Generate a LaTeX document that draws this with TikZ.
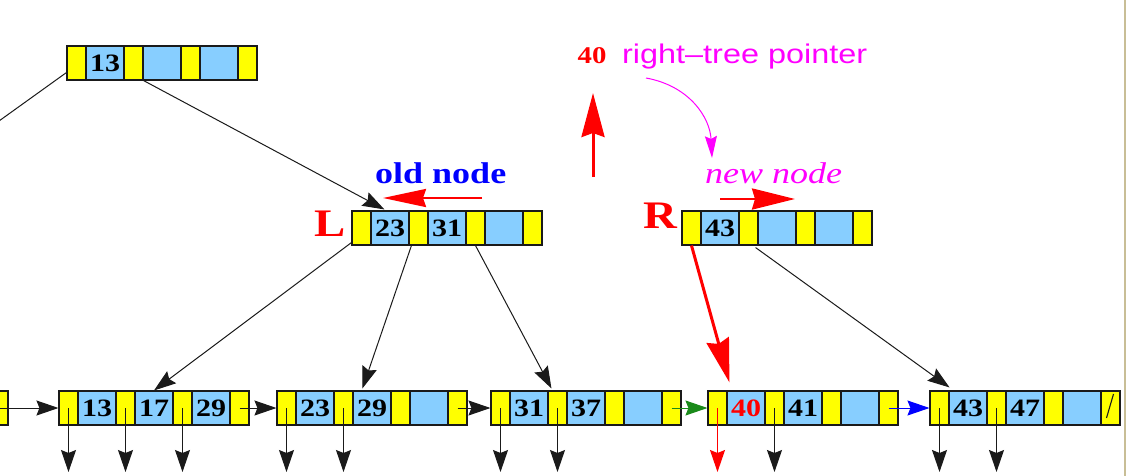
\documentclass[tikz,border=0pt]{standalone}
\usepackage{fontspec}
\setmainfont{Liberation Serif}[FakeStretch=1.2]
\setsansfont{Liberation Sans}[FakeStretch=1.2]
\usetikzlibrary{arrows.meta,calc}
\definecolor{ink}{HTML}{1A1A1A}
\definecolor{keyblue}{HTML}{87CEFF}
\definecolor{ptryellow}{HTML}{FFFF00}
\definecolor{linkgreen}{HTML}{1A8A1A}
\definecolor{linkblue}{HTML}{0000FF}
\definecolor{hot}{HTML}{FF0000}
\definecolor{pink}{HTML}{FF00FF}
\definecolor{frameline}{HTML}{C8BE96}

% one B+ tree node: 4 pointer cells, 3 key cells
% #1 name, #2 left x, #3 top y, #4-#6 keys
\newcommand{\bpnode}[6]{%
  \foreach \i in {0,...,3}{
    \node[ptrcell] (#1-p\i) at ({#2+57*\i+9.5},{#3+17}) {};
    \coordinate (#1-d\i) at ({#2+57*\i+9.5},472);
  }
  \node[keycell] (#1-k1) at ({#2+38},{#3+17}) {#4};
  \node[keycell] (#1-k2) at ({#2+95},{#3+17}) {#5};
  \node[keycell] (#1-k3) at ({#2+152},{#3+17}) {#6};
}

\begin{document}
\begin{tikzpicture}[
  x=1pt, y=-1pt,
  >={Stealth[length=22pt,width=15pt,inset=3pt]},
  ptrcell/.style={draw=ink, fill=ptryellow, line width=1.1pt,
                  minimum width=19pt, minimum height=34pt, inner sep=0pt},
  keycell/.style={draw=ink, fill=keyblue, line width=1.1pt,
                  minimum width=38pt, minimum height=34pt, inner sep=0pt,
                  font=\fontsize{25}{25}\selectfont\bfseries},
  ptr/.style={->, draw=ink, line width=1pt},
  bigptr/.style={-{Stealth[length=44pt,width=23pt,inset=4pt]}, draw=hot, line width=3pt},
  side/.style={font=\fontsize{39}{39}\selectfont\bfseries, text=hot, inner sep=0pt},
  tag/.style={font=\fontsize{30}{30}\selectfont, inner sep=0pt}
]
\useasboundingbox (0,0) rectangle (1126,476);
\clip (0,0) rectangle (1126,476);
\fill[white] (0,0) rectangle (1126,476);
\draw[frameline, line width=2pt] (1125,0) -- (1125,476);

% inner nodes
\bpnode{root}{67}{46}{13}{}{}
\bpnode{oldn}{352}{211}{23}{31}{}
\bpnode{newn}{682}{211}{43}{}{}

% leaves
\bpnode{leaf0}{-182}{391}{}{}{}
\bpnode{leaf1}{59}{391}{13}{17}{29}
\bpnode{leaf2}{277}{391}{23}{29}{}
\bpnode{leaf3}{491}{391}{31}{37}{}
\bpnode{leaf4}{708}{391}{\textcolor{hot}{40}}{41}{}
\bpnode{leaf5}{930}{391}{43}{47}{}
\draw[ink, line width=1.1pt] ($(leaf5-p3.center)+(-4,10)$) -- ($(leaf5-p3.center)+(3,-14)$);

% labels
\node[side, anchor=base] (lbl-L) at (330,236) {L};
\node[side, anchor=base] (lbl-R) at (660,228) {R};
\node[tag, anchor=base west, text=linkblue, font=\fontsize{30}{30}\selectfont\bfseries] (oldlbl) at (375,183) {old node};
\node[tag, anchor=base west, text=pink, font=\fontsize{30}{30}\selectfont\itshape] (newlbl) at (705,183) {new node};
\node[anchor=base, text=hot, inner sep=0pt, font=\fontsize{24}{24}\selectfont\bfseries] (key40) at (592,64) {40};
\node[anchor=base west, text=pink, inner sep=0pt, font=\fontsize{27}{27}\sffamily\selectfont] (rtp) at (622,64) {right–tree pointer};

% tree pointers
\coordinate (offleft) at (-40,149);
\draw[ptr] ($(root-p0.south west)+(0,-8)$) -- (offleft);
\draw[ptr] (root-p1.south east) -- ($(oldn-k1.north west)+(14,-1)$);
\draw[ptr] ($(oldn-p0.south west)+(0,-3)$) -- (leaf1-k2.north);
\draw[ptr] ($(oldn-p1.south west)+(3,0)$) -- ($(leaf2-k2.north west)+(10,-2)$);
\draw[ptr] (oldn-p2.south) -- ($(leaf3-p1.north west)+(4,-2)$);
\draw[bigptr] (newn-p0.south) -- ($(leaf4-k1.north west)+(3,-8)$);
\draw[ptr] ($(newn-p1.south east)+(-3,2)$) -- ($(leaf5-p0.north east)+(0,-3)$);

% sibling links
\draw[ptr] (leaf0-p3.center) -- (leaf1-p0.west);
\draw[ptr] (leaf1-p3.center) -- (leaf2-p0.west);
\draw[ptr] (leaf2-p3.center) -- (leaf3-p0.west);
\draw[ptr, draw=linkgreen] (leaf3-p3.center) -- (leaf4-p0.west);
\draw[ptr, draw=linkblue] (leaf4-p3.center) -- (leaf5-p0.west);

% record pointers
\foreach \n/\i in {leaf1/0,leaf1/1,leaf1/2,leaf2/0,leaf2/1,leaf3/0,leaf3/1,leaf4/1,leaf5/0,leaf5/1}
  \draw[ptr] (\n-p\i.center) -- (\n-d\i);
\draw[ptr, draw=hot, line width=1.2pt] (leaf4-p0.center) -- (leaf4-d0);

% split markers
\coordinate (old-a) at (482,198);
\coordinate (old-b) at (383,198);
\coordinate (new-a) at (720,199);
\coordinate (new-b) at (795,199);
\coordinate (up-a) at (593,177);
\coordinate (up-b) at (593,93);
\draw[bigptr, line width=2.5pt, -{Stealth[length=43pt,width=18pt,inset=3pt]}] (old-a) -- (old-b);
\draw[bigptr, line width=2.5pt, -{Stealth[length=43pt,width=21pt,inset=3pt]}] (new-a) -- (new-b);
\draw[bigptr] (up-a) -- (up-b);

\coordinate (rt-a) at (646,78);
\coordinate (rt-b) at (712,158);
\draw[ptr, draw=pink, -{Stealth[length=22pt,width=12pt,inset=3pt]}] (rt-a) .. controls (690,86) and (710,118) .. (rt-b);

\end{tikzpicture}
\end{document}
